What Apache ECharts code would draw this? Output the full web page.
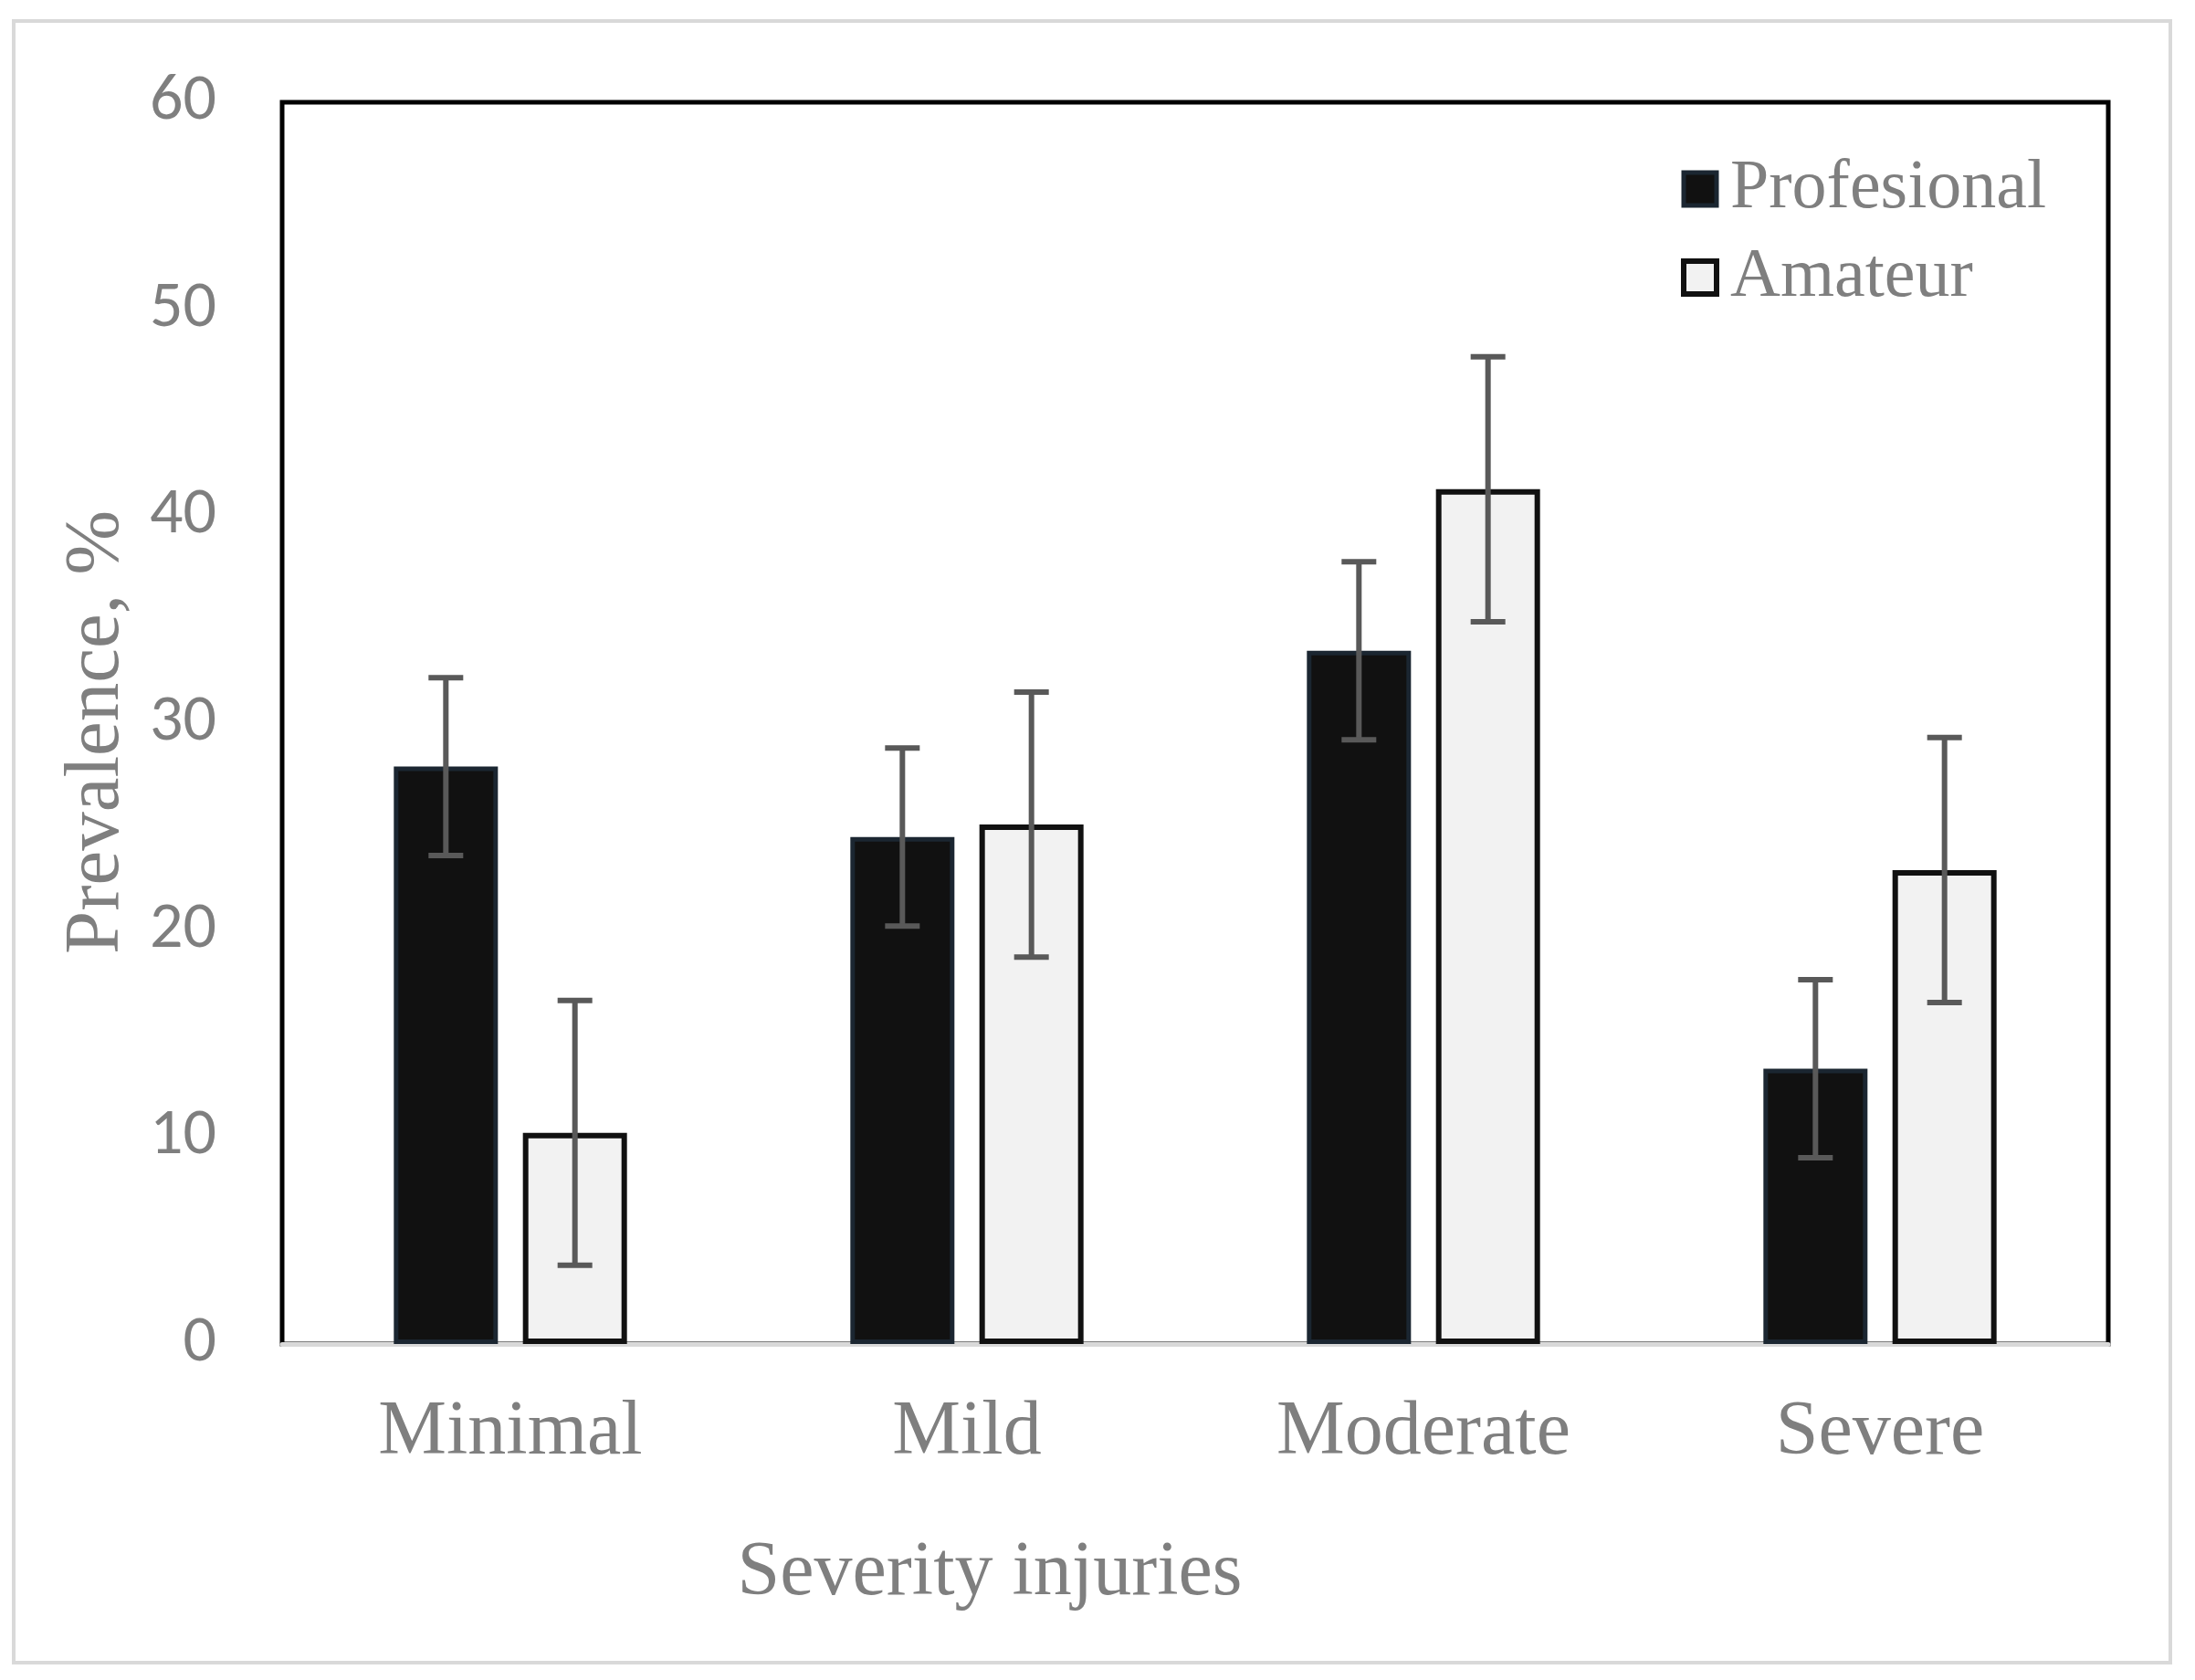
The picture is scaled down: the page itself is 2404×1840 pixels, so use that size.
<!DOCTYPE html>
<html>
<head>
<meta charset="utf-8">
<script src="https://cdn.jsdelivr.net/npm/echarts@6/dist/echarts.min.js"></script>
<style>
  body { margin: 0; background: #fff; }
  #main { width: 2404px; height: 1840px; }
</style>
</head>
<body>
<div id="main"></div>
<script>
// values
let categories = ['Minimal', 'Mild', 'Moderate', 'Severe'];
let profesional = [27.9, 24.5, 33.5, 13.3];
let amateur = [10.2, 25.1, 41.3, 22.9];
let profesionalErr = [4.3, 4.3, 4.3, 4.3];
let amateurErr = [6.4, 6.4, 6.4, 6.4];
let yTicks = [0, 10, 20, 30, 40, 50, 60];

let barW = 114;
let gapRatio = 0.24;
let pairOffset = (barW + barW * gapRatio) / 2;

function errRows(vals, errs) {
    let rows = [];
    for (let i = 0; i < vals.length; i = i + 1) {
        rows.push([i, vals[i] - errs[i], vals[i] + errs[i]]);
    }
    return rows;
}

function errRender(offset) {
    return function (params, api) {
        let cat = api.value(0);
        let lo = api.coord([cat, api.value(1)]);
        let hi = api.coord([cat, api.value(2)]);
        let x = lo[0] + offset;
        let half = 19;
        let st = { stroke: '#595959', lineWidth: 6 };
        return {
            type: 'group',
            children: [
                { type: 'line', shape: { x1: x, y1: hi[1], x2: x, y2: lo[1] }, style: st },
                { type: 'line', shape: { x1: x - half, y1: hi[1], x2: x + half, y2: hi[1] }, style: st },
                { type: 'line', shape: { x1: x - half, y1: lo[1], x2: x + half, y2: lo[1] }, style: st }
            ]
        };
    };
}

let myChart = echarts.init(document.getElementById('main'));

let serif = '"Liberation Serif", "Times New Roman", serif';
let sans = 'Carlito, Lato, "Open Sans", sans-serif';

let option = {
    backgroundColor: '#ffffff',
    animation: false,
    graphic: [
        {
            type: 'rect',
            shape: { x: 15, y: 23, width: 2362, height: 1798 },
            style: { fill: 'none', stroke: '#d9d9d9', lineWidth: 4 },
            z: -1
        },
        {
            type: 'text',
            x: 1084,
            y: 1724,
            style: {
                text: 'Severity injuries',
                font: '84px ' + serif,
                fill: '#7f7f7f',
                align: 'center',
                verticalAlign: 'middle'
            }
        }
    ],
    legend: {
        orient: 'vertical',
        left: 1836,
        top: 164,
        itemWidth: 36,
        itemHeight: 36,
        itemGap: 21,
        icon: 'rect',
        data: [
            { name: 'Profesional', itemStyle: { color: '#111111', borderColor: '#1b2631', borderWidth: 5 } },
            { name: 'Amateur', itemStyle: { color: '#f2f2f2', borderColor: '#111111', borderWidth: 6 } }
        ],
        textStyle: {
            fontFamily: serif,
            fontSize: 76,
            lineHeight: 76,
            color: '#7f7f7f',
            padding: [0, 0, 0, 10]
        }
    },
    grid: {
        left: 309,
        right: 95,
        top: 112,
        bottom: 368,
        show: true,
        borderColor: '#000000',
        borderWidth: 5,
        backgroundColor: 'transparent'
    },
    xAxis: {
        type: 'category',
        data: categories,
        axisLine: { show: true, lineStyle: { color: '#d9d9d9', width: 5 } },
        axisTick: { show: false },
        axisLabel: {
            margin: 56,
            fontFamily: serif,
            fontSize: 84,
            color: '#7f7f7f'
        },
        splitLine: { show: false }
    },
    yAxis: {
        type: 'value',
        min: yTicks[0],
        max: yTicks[yTicks.length - 1],
        interval: 10,
        name: 'Prevalence, %',
        nameLocation: 'middle',
        nameGap: 160,
        nameTextStyle: {
            fontFamily: serif,
            fontSize: 85,
            color: '#7f7f7f',
            padding: [0, 20, 0, 0]
        },
        axisLine: { show: false },
        axisTick: { show: false },
        splitLine: { show: false },
        axisLabel: {
            margin: 72,
            fontFamily: sans,
            fontSize: 72,
            color: '#7f7f7f'
        }
    },
    series: [
        {
            name: 'Profesional',
            type: 'bar',
            data: profesional,
            barWidth: barW,
            barGap: (gapRatio * 100) + '%',
            itemStyle: { color: '#111111', borderColor: '#1b2631', borderWidth: 5 }
        },
        {
            name: 'Amateur',
            type: 'bar',
            data: amateur,
            barWidth: barW,
            barGap: (gapRatio * 100) + '%',
            itemStyle: { color: '#f2f2f2', borderColor: '#111111', borderWidth: 6 }
        },
        {
            type: 'custom',
            renderItem: errRender(-pairOffset),
            data: errRows(profesional, profesionalErr),
            encode: { x: 0, y: [1, 2] },
            z: 5
        },
        {
            type: 'custom',
            renderItem: errRender(pairOffset),
            data: errRows(amateur, amateurErr),
            encode: { x: 0, y: [1, 2] },
            z: 5
        }
    ]
};

myChart.setOption(option);
</script>
</body>
</html>
